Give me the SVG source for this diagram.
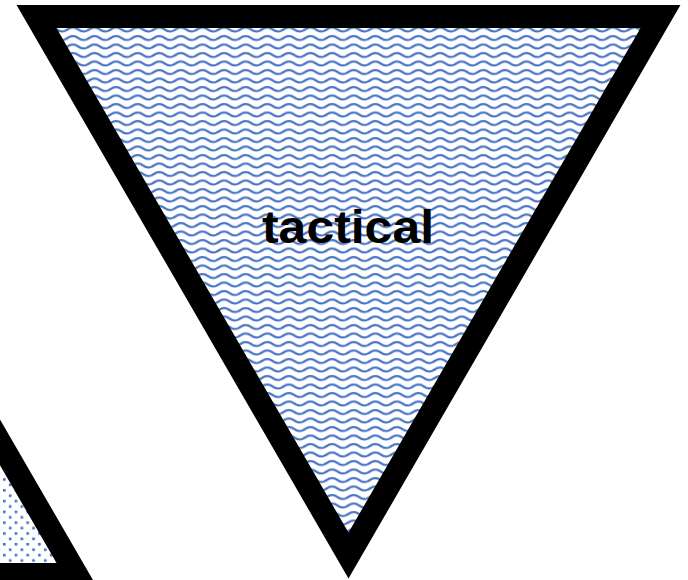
<svg xmlns="http://www.w3.org/2000/svg" width="688" height="580" viewBox="0 0 688 580">
  <defs>
    <pattern id="wave" patternUnits="userSpaceOnUse" x="0" y="0" width="21.6" height="8.5">
      <rect width="21.6" height="8.5" fill="#ffffff"/>
      <path d="M-5.4,6 Q0,6 2.7,4 T8.1,2 Q10.8,2 13.5,4 T18.9,6 T24.3,4 T29.7,2" fill="none" stroke="#4472C4" stroke-width="2.1"/>
    </pattern>
    <pattern id="dots" patternUnits="userSpaceOnUse" x="3" y="3" width="11.7" height="10.8">
      <rect width="11.7" height="10.8" fill="#ffffff"/>
      <rect x="0" y="0" width="2.6" height="2.6" fill="#4472C4"/>
      <rect x="5.85" y="5.4" width="2.6" height="2.6" fill="#4472C4"/>
    </pattern>
    <style>
      .tri { stroke: #000000; stroke-width: 23; stroke-linejoin: miter; stroke-miterlimit: 10; }
      .lbl { font-family: "Liberation Sans", "DejaVu Sans", sans-serif; font-weight: bold; font-size: 46px; fill: #000000; }
    </style>
  </defs>
  <rect width="688" height="580" fill="#ffffff"/>
  <g id="node-left">
    <polygon class="tri" points="-235.5,35.5 76.5,574.5 -547.5,574.5" fill="url(#dots)"/>
  </g>
  <g id="node-tactical">
    <polygon class="tri" points="36.5,16.5 660.5,16.5 348.5,555.5" fill="url(#wave)"/>
    <text class="lbl" x="348" y="243" text-anchor="middle" textLength="172" lengthAdjust="spacingAndGlyphs">tactical</text>
  </g>
  <g id="connectors"/>
</svg>
